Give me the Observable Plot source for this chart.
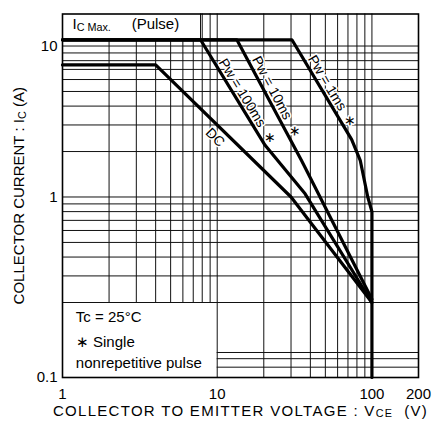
<!DOCTYPE html>
<html><head><meta charset="utf-8">
<script src="https://cdn.jsdelivr.net/npm/d3@7"></script>
<script src="https://cdn.jsdelivr.net/npm/@observablehq/plot@0.6"></script>
<style>
html,body{margin:0;padding:0;background:#fff;}
</style>
</head><body><div id="chart"></div>
<script>
// ---- data (log-log SOA chart) ----
const voltageTicks = [1, 10, 100, 200];
const currentTicks = [0.1, 1, 10];
const xGrid = [2, 3, 4, 5, 6, 7, 8, 9, 10, 20, 30, 40, 50, 60, 70, 80, 90, 100];
const yGridMain = [0.2, 0.3, 0.4, 0.5, 0.6, 0.7, 0.8, 0.9, 1, 2, 3, 4, 5, 6, 7, 8, 9, 10];
const yGridLow = [0.11, 0.119, 0.126];
const icMax = 11;
const yTop = 16.3;
const boxRight = 7.8;     // right edge of "Ic Max. (Pulse)" box (V)
const noteTop = 0.2;      // top of note box (A)
const noteRight = 10;     // right edge of note box (V)

const seriesNames = ["DC", "Pw = 100ms", "Pw = 10ms", "Pw = 1ms"];
const dcV = [1, 4, 30, 100];
const dcI = [7.5, 7.5, 1.0, 0.2];
const p100V = [1, 7.8, 20.4, 37, 100];
const p100I = [11, 11, 2.2, 1.05, 0.2];
const p10V = [1, 13.4, 35, 100];
const p10I = [11, 11, 1.75, 0.21];
const p1V = [1, 30.4, 74, 84, 94, 100, 100];
const p1I = [11, 11, 2.4, 1.75, 1.0, 0.8, 0.1];

const curveLabelText = ["DC", "Pw = 100ms  ∗", "Pw = 10ms  ∗", "Pw = 1ms  ∗"];
const curveLabelV = [9.7, 15.7, 24.2, 55.4];
const curveLabelI = [2.48, 4.3, 4.62, 5.0];
const curveLabelAngle = [45, 58.5, 62, 59];

const noteText = ["Tc = 25°C", "∗ Single", "nonrepetitive pulse"];
const noteV = [1.22, 1.22, 1.22];
const noteI = [0.174, 0.138, 0.114];

const headerText = "IC Max.     (Pulse)";
const headerV = 1.16;
const headerI = 13.9;

const xTitle = "COLLECTOR TO EMITTER VOLTAGE : VCE (V)";
const yTitle = "COLLECTOR CURRENT : IC (A)";

// ---- build tables ----
const table = [];
[[dcV, dcI], [p100V, p100I], [p10V, p10I], [p1V, p1I]].forEach(([V, I], k) => {
  V.forEach((v, j) => table.push({series: seriesNames[k], v, i: I[j]}));
});
const vRules = xGrid.map(v => ({
  v,
  y1: v < noteRight ? noteTop : 0.1,
  y2: v < boxRight ? icMax : yTop
}));
const curveLabels = curveLabelText.map((t, k) => ({t, v: curveLabelV[k], i: curveLabelI[k], a: curveLabelAngle[k]}));
const notes = noteText.map((t, k) => ({t, v: noteV[k], i: noteI[k]}));

const font = "'Liberation Sans', Arial, Helvetica, sans-serif";

const chart = Plot.plot({
  width: 436,
  height: 427,
  marginLeft: 62,
  marginRight: 18,
  marginTop: 13.5,
  marginBottom: 50,
  style: {fontFamily: font, fontSize: "14px", color: "#000", background: "#fff"},
  x: {type: "log", domain: [1, 200], range: [62, 418]},
  y: {type: "log", domain: [0.1, 0.2, yTop], range: [377, 302, 13.5]},
  marks: [
    Plot.ruleX(vRules, {x: "v", y1: "y1", y2: "y2", stroke: "#111", strokeWidth: 1}),
    Plot.ruleX([boxRight], {y1: icMax, y2: yTop, stroke: "#111", strokeWidth: 1}),
    Plot.ruleY(yGridMain, {x1: 1, x2: 200, stroke: "#111", strokeWidth: 1}),
    Plot.ruleY(yGridLow, {x1: noteRight, x2: 200, stroke: "#111", strokeWidth: 1}),
    Plot.text(curveLabels, {x: "v", y: "i", text: "t", rotate: "a", fontSize: 14, fill: "#000", stroke: "#fff", strokeWidth: 3, paintOrder: "stroke"}),
    Plot.line(table, {x: "v", y: "i", z: "series", stroke: "#000", strokeWidth: 3.2, strokeLinejoin: "round"}),
    Plot.frame({stroke: "#000", strokeWidth: 1.6}),
    Plot.axisX({ticks: voltageTicks, tickSize: 0, tickPadding: 11, tickFormat: d => String(d), label: null, fontSize: 15}),
    Plot.axisY({ticks: currentTicks, tickSize: 0, tickPadding: 5, tickFormat: d => String(d), label: null, fontSize: 15}),
    Plot.text(notes, {x: "v", y: "i", text: "t", textAnchor: "start", fontSize: 15, fill: "#000"}),
    Plot.text([headerText], {x: headerV, y: headerI, text: d => d, textAnchor: "start", fontSize: 15, fill: "#000"}),
    Plot.text([xTitle], {frameAnchor: "bottom", dy: 38, textAnchor: "middle", text: d => d, fontSize: 15, fill: "#000"}),
    Plot.text([yTitle], {frameAnchor: "left", dx: -43, textAnchor: "middle", rotate: -90, text: d => d, fontSize: 15, fill: "#000"})
  ]
});

// rich text: small subscripts
const rich = new Map([
  [xTitle, [["COLLECTOR TO EMITTER VOLTAGE : V", 0], ["CE", 1], ["  (V)", 0]]],
  [yTitle, [["COLLECTOR CURRENT : I", 0], ["C", 1], [" (A)", 0]]],
  [headerText, [["I", 0], ["C Max.", 1], ["     (Pulse)", 0]]]
]);
d3.select(chart).selectAll("text").each(function () {
  const full = this.textContent;
  const parts = rich.get(full);
  if (!parts) return;
  const sel = d3.select(this);
  sel.text(null).attr("xml:space", "preserve").style("white-space", "pre");
  if (full === xTitle) sel.style("letter-spacing", "1.3px");
  let shifted = false;
  for (const [s, small] of parts) {
    const ts = sel.append("tspan").text(s);
    if (small) { ts.attr("font-size", "0.72em").attr("dy", 1.5); shifted = true; }
    else if (shifted) { ts.attr("dy", -1.5); shifted = false; }
  }
});
document.getElementById("chart").appendChild(chart);
</script>
</body></html>
